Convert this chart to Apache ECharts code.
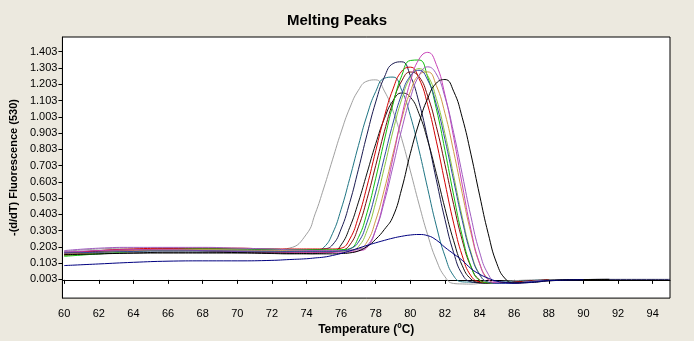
<!DOCTYPE html>
<html><head><meta charset="utf-8">
<script src="https://cdn.jsdelivr.net/npm/echarts@6/dist/echarts.min.js"></script>
<style>html,body{margin:0;padding:0;background:#ece9df;}#c{width:694px;height:341px;}</style>
</head><body><div id="c"></div>
<script>
// Temperature grid (°C)
var temps = [60,62,64,66,68,70,72,73,74,74.5,75,75.5,76,76.5,77,77.5,78,78.5,79,79.5,80,80.5,81,81.5,82,82.5,83,83.5,84,84.5,85,85.5,86,87,88,90,91.5,95];
// -(d/dT) values for each sample curve (null = not drawn)
var gray      = [.175,.19,.195,.195,.195,.19,.185,.195,.281,.406,.565,.738,.909,1.057,1.166,1.222,1.230,1.161,1.038,.868,.670,.466,.277,.122,.019,-.022,-.025,-.026,-.022,-.018,-.012,-.008,-.005,0,.002,null,null,null];
var teal      = [.165,.18,.185,.185,.18,.178,.175,.175,.175,.178,.2,.284,.434,.624,.826,1.014,1.158,1.240,1.247,1.166,1.010,.798,.562,.332,.146,.025,-.012,-.014,-.016,-.016,-.015,-.013,-.01,-.004,.001,null,null,null];
var navyBlack = [.17,.175,.18,.19,.19,.19,.188,.186,.185,.186,.19,.215,.313,.476,.680,.896,1.094,1.247,1.330,1.341,1.256,1.091,.868,.616,.371,.168,.034,-.012,-.018,-.02,-.02,-.018,-.015,-.008,-.002,.002,.003,.003];
var blackShort= [.15,.16,.165,.165,.165,.165,.162,.16,.16,.162,.165,.17,.215,.323,.478,.658,.837,.992,1.102,1.149,1.124,1.022,.858,.655,.439,.241,.087,.005,-.016,-.02,-.021,-.02,-.016,-.008,-.002,.002,.003,null];
var red       = [.16,.18,.19,.195,.195,.195,.19,.19,.19,.19,.19,.19,.195,.251,.387,.577,.794,1.004,1.174,1.283,1.308,1.238,1.077,.853,.597,.349,.148,.025,-.012,-.018,-.02,-.018,-.014,-.006,0,null,null,null];
var darkRed   = [.155,.17,.18,.185,.18,.175,.172,.17,.17,.17,.17,.172,.18,.215,.326,.499,.704,.913,1.094,1.223,1.278,1.250,1.131,.943,.709,.464,.243,.081,0,-.016,-.02,-.02,-.017,-.008,-.002,null,null,null];
var green     = [.145,.16,.175,.185,.19,.19,.188,.186,.185,.185,.185,.185,.186,.192,.261,.414,.625,.860,1.081,1.255,1.349,1.352,1.248,1.053,.796,.521,.269,.085,-.004,-.018,-.022,-.022,-.02,-.01,-.003,null,null,null];
var yellowGrn = [.15,.165,.175,.18,.18,.178,.175,.175,.175,.175,.175,.175,.176,.18,.205,.303,.476,.692,.916,1.110,1.245,1.299,1.256,1.115,.899,.643,.386,.170,.035,-.014,-.022,-.022,-.02,-.01,-.003,null,null,null];
var orange    = [.16,.17,.18,.185,.185,.183,.18,.18,.18,.18,.18,.18,.18,.182,.19,.234,.367,.557,.777,.989,1.158,1.261,1.279,1.195,1.024,.790,.531,.289,.100,.005,-.02,-.022,-.02,-.01,-.003,null,null,null];
var magenta   = [.17,.18,.185,.185,.18,.175,.17,.17,.17,.17,.17,.17,.17,.172,.178,.2,.308,.504,.752,1.004,1.219,1.357,1.399,1.324,1.137,.877,.584,.309,.102,0,-.018,-.022,-.02,-.01,-.004,null,null,null];
var violet    = [.18,.195,.2,.2,.2,.195,.19,.185,.182,.18,.18,.18,.18,.182,.188,.21,.309,.482,.699,.925,1.119,1.255,1.310,1.266,1.124,.906,.648,.389,.171,.035,-.016,-.022,-.021,-.01,-.004,null,null,null];
var blue      = [.165,.17,.175,.178,.178,.177,.176,.175,.175,.175,.175,.175,.178,.19,.232,.355,.540,.754,.965,1.141,1.254,1.289,1.229,1.080,.863,.612,.365,.159,.032,-.014,-.022,-.022,-.02,-.01,-.003,null,null,null];
var blackRight= [.155,.16,.165,.17,.17,.168,.165,.163,.162,.16,.16,.16,.162,.166,.178,.205,.25,.31,.39,.56,.778,.965,1.116,1.210,1.232,1.160,.997,.773,.521,.284,.099,.005,-.018,-.016,-.006,.001,.003,null];
var navyLow   = [.088,.098,.108,.115,.117,.117,.12,.125,.13,.135,.14,.15,.163,.178,.195,.212,.228,.243,.257,.268,.276,.279,.272,.245,.2,.16,.12,.07,.035,.01,-.008,-.016,-.02,-.015,-.005,.001,null,null];

var curves = [
  ['gray', gray, '#a0a0a0'], ['teal', teal, '#1f7584'], ['navyBlack', navyBlack, '#1a1a50'],
  ['blackShort', blackShort, '#111111'], ['red', red, '#d40000'], ['darkRed', darkRed, '#7a0a0a'],
  ['green', green, '#10c010'], ['yellowGrn', yellowGrn, '#8cc840'], ['orange', orange, '#d09a48'],
  ['magenta', magenta, '#c840b8'], ['violet', violet, '#a05cc0'], ['blue', blue, '#3048a0'],
  ['blackRight', blackRight, '#000000'], ['navyLow', navyLow, '#000080']
];
var xTicks = [60,62,64,66,68,70,72,74,76,78,80,82,84,86,88,90,92,94];
var yTicks = [0.003,0.103,0.203,0.303,0.403,0.503,0.603,0.703,0.803,0.903,1.003,1.103,1.203,1.303,1.403];

var font = '"Liberation Sans", Arial, sans-serif';
var series = curves.map(function (c) {
  var d = [];
  temps.forEach(function (t, i) { if (c[1][i] !== null) d.push([t, c[1][i]]); });
  return { name: c[0], type: 'line', data: d, smooth: 0.5, showSymbol: false, symbol: 'none',
           lineStyle: { color: c[2], width: 1 }, itemStyle: { color: c[2] }, silent: true };
});

var chart = echarts.init(document.getElementById('c'), null, { renderer: 'canvas' });
chart.setOption({
  animation: false,
  backgroundColor: '#ece9df',
  graphic: [{ type: 'text', left: 287, top: 13, style: { text: 'Melting Peaks', font: 'bold 15px ' + font, fill: '#000' } }],
  grid: { left: 62, right: 24, top: 37, bottom: 38, show: true, backgroundColor: '#fff', borderColor: '#000', borderWidth: 1 },
  xAxis: {
    type: 'value', min: 59.9, max: 95,
    name: 'Temperature (ºC)', nameLocation: 'middle', nameGap: 24,
    nameTextStyle: { fontFamily: font, fontWeight: 'bold', fontSize: 12, color: '#000' },
    axisLine: { show: true, lineStyle: { color: '#000' } },
    axisTick: { show: true, length: 4, lineStyle: { color: '#000' }, customValues: xTicks },
    axisLabel: { customValues: xTicks, color: '#000', fontFamily: font, fontSize: 11, margin: 10 },
    splitLine: { show: false }
  },
  yAxis: {
    type: 'value', min: -0.112, max: 1.4935,
    name: '-(d/dT) Fluorescence (530)', nameLocation: 'middle', nameGap: 32,
    nameTextStyle: { fontFamily: font, fontWeight: 'bold', fontSize: 11, color: '#000' },
    axisLine: { show: true, lineStyle: { color: '#000' } },
    axisTick: { show: true, length: 4, lineStyle: { color: '#000' }, customValues: yTicks },
    axisLabel: { customValues: yTicks, color: '#000', fontFamily: font, fontSize: 11, margin: 5,
                 formatter: function (v) { return v.toFixed(3); } },
    splitLine: { show: false }
  },
  series: series
});
</script></body></html>
